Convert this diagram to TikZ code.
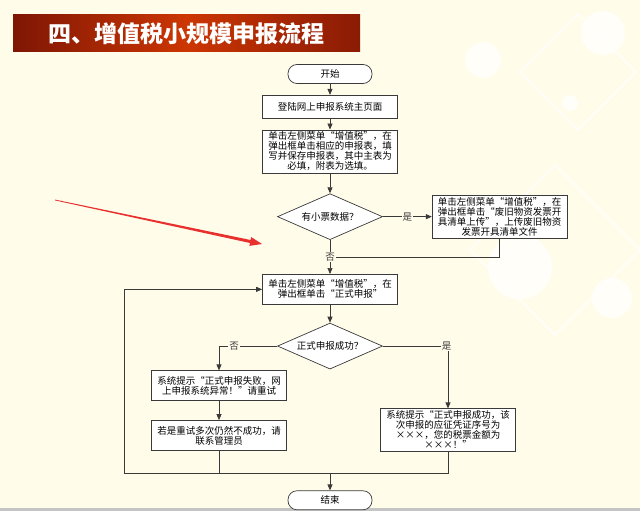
\documentclass[tikz,border=0pt]{standalone}
\usepackage{fontspec}
\usepackage{tikz}
\usetikzlibrary{shapes.geometric, arrows.meta, positioning, calc}
\newfontfamily\cjk{Noto Sans CJK SC}
\definecolor{cPaper}{HTML}{FFFCEA}
\definecolor{cLine}{HTML}{3A3A3A}
\definecolor{cDeep}{HTML}{7E1604}
\definecolor{cFlame}{HTML}{CC3603}
\definecolor{cPointer}{HTML}{E8302E}
\definecolor{cEdge}{HTML}{C4C4C4}
\tikzset{
  box/.style={
    rectangle, draw=cLine, fill=white, line width=0.7pt,
    minimum width=135pt, text width=131pt, align=center, inner sep=2pt,
    font=\cjk\fontsize{9.5}{10}\selectfont
  },
  term/.style={
    rectangle, rounded corners=9pt, draw=cLine, fill=white, line width=0.7pt,
    minimum width=84pt, minimum height=19pt, inner sep=1pt,
    font=\cjk\fontsize{9.5}{10}\selectfont
  },
  choice/.style={
    diamond, aspect=2.3, draw=cLine, fill=white, line width=0.7pt,
    minimum width=105pt, minimum height=46pt, inner sep=0pt,
    font=\cjk\fontsize{9.5}{10}\selectfont
  },
  banner/.style={
    rectangle, minimum width=347pt, minimum height=37pt,
    left color=cDeep, right color=cDeep!85!cFlame, middle color=cFlame,
    text=white, font=\cjk\bfseries\fontsize{23}{26}\selectfont
  },
  arrow/.style={-{Triangle[length=6pt,width=5pt]}, cLine, line width=0.7pt},
  link/.style={cLine, line width=0.7pt},
  tag/.style={fill=cPaper, inner sep=1pt, font=\cjk\fontsize{9.5}{10}\selectfont},
  bubble/.style={fill=white, opacity=0.75},
}

\begin{document}
\begin{tikzpicture}[x=1pt, y=-1pt, node distance=11pt]

  % Page
  \fill[cPaper] (0,0) rectangle (640,511);
  \useasboundingbox (0,0) rectangle (640,511);
  \fill[cEdge] (0,508) rectangle (640,511);

  % Decoration
  \fill[bubble] (483,60) circle (18);
  \fill[bubble] (603,33) circle (22);
  \fill[bubble] (570,103) circle (8);
  \fill[bubble] (520,267) circle (32);
  \fill[bubble] (612,298) circle (20);
  \draw[white, line width=1.5pt, opacity=0.8] (520,72) -- (578,14) -- (636,72) -- (578,130) -- cycle;
  \draw[white, line width=1.5pt, opacity=0.8] (470,250) -- (555,165) -- (640,250) -- (555,335) -- cycle;

  % Title
  \node[banner] (title) at (186.5,33.5) {四、增值税小规模申报流程};

  % Main column
  \node[term] (start) at (330,74) {开始};
  \node[box, minimum height=23pt, below=of start] (login) {登陆网上申报系统主页面};
  \node[box, below=of login] (fill) {
    单击左侧菜单“增值税”，在\\
    弹出框单击相应的申报表，填\\
    写并保存申报表，其中主表为\\
    必填，附表为选填。
  };
  \node[choice, below=20pt of fill] (ticket) {有小票数据？};
  \node[box, right=49pt of ticket] (upload) {
    单击左侧菜单“增值税”，在\\
    弹出框单击“废旧物资发票开\\
    具清单上传”，上传废旧物资\\
    发票开具清单文件
  };
  \node[box, minimum height=30pt, below=34pt of ticket] (submit) {
    单击左侧菜单“增值税”，在\\
    弹出框单击“正式申报”
  };
  \node[choice, below=18pt of submit] (ok) {正式申报成功？};

  % Branches
  \node[box, minimum height=30pt, below=1pt of ok.south, xshift=-111pt] (fail) {
    系统提示“正式申报失败，网\\
    上申报系统异常！”请重试
  };
  \node[box, minimum height=30pt, below=19pt of fail] (admin) {
    若是重试多次仍然不成功，请\\
    联系管理员
  };
  \node[box, below=39pt of ok.south, xshift=118pt] (success) {
    系统提示“正式申报成功，该\\
    次申报的应征凭证序号为\\
    ×××，您的税票金额为\\
    ×××！”
  };

  \coordinate[below=104pt of ok.south] (merge);
  \coordinate[left=206pt of merge] (back);
  \node[term, below=17pt of merge] (finish) {结束};

  % Arrows
  \draw[arrow] (start) -- (login);
  \draw[arrow] (login) -- (fill);
  \draw[arrow] (fill) -- (ticket);
  \draw[arrow] (ticket) -- node[tag] {是} (upload);
  \draw[link] (upload.south) |- ($(ticket.south)!0.5!(submit.north)$);
  \draw[arrow] (ticket) -- node[tag] {否} (submit);
  \draw[arrow] (submit) -- (ok);
  \draw[arrow] (ok.west) -| node[tag, pos=0.37] {否} (fail.north);
  \draw[arrow] (ok.east) -| node[tag, pos=0.49] {是} (success.north);
  \draw[arrow] (fail) -- (admin);
  \draw[link] (admin.south) -- (admin.south |- merge);
  \draw[arrow] (success.south) |- (back) |- (submit.west);
  \draw[arrow] (merge) -- (finish);

  % Pointer
  \fill[cPointer] (55,199.6) -- (250.6,240.0) -- (251.2,237.1) -- (262,244)
    -- (249.4,245.9) -- (250.0,243.0) -- (55,200.4) -- cycle;

\end{tikzpicture}
\end{document}
